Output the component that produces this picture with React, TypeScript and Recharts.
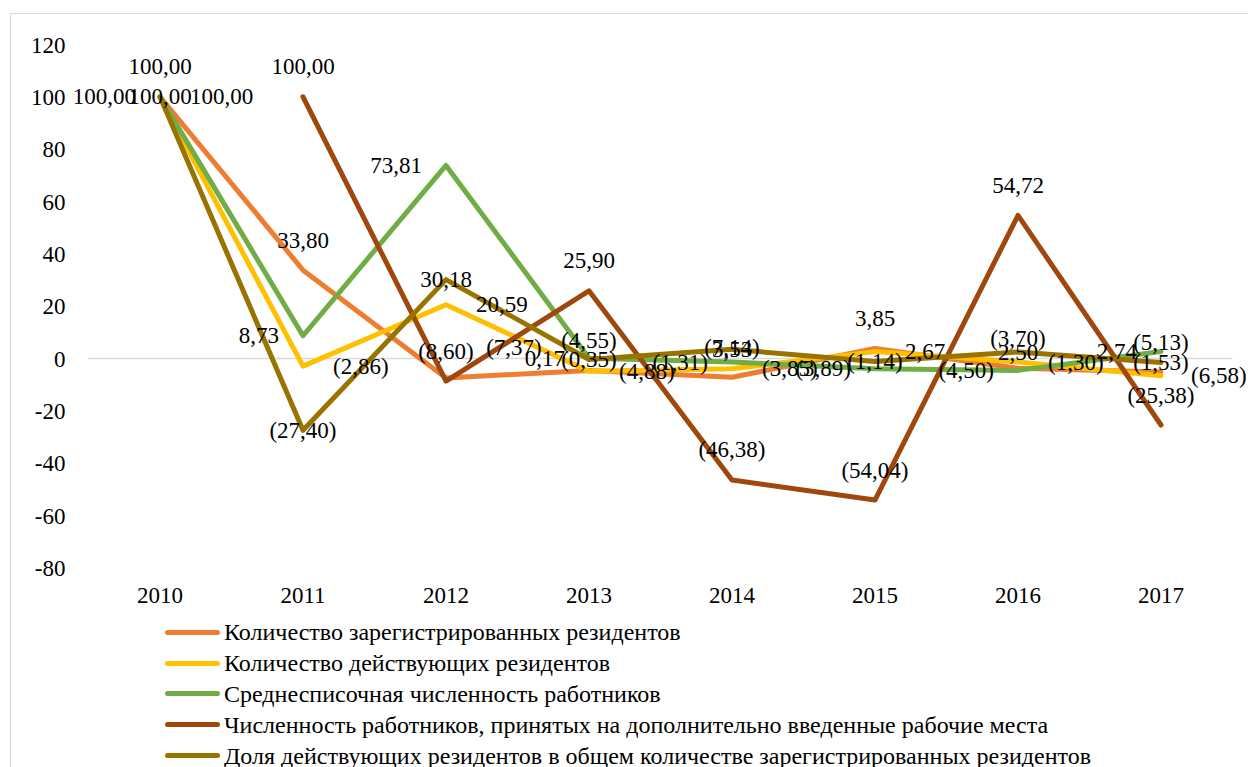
import { LineChart, Line, XAxis, YAxis, ReferenceLine, LabelList } from "recharts";

const years = ["2010", "2011", "2012", "2013", "2014", "2015", "2016", "2017"];
const registered = [100, 33.8, -7.37, -4.55, -7.14, 3.85, -3.7, -5.13];
const active = [100, -2.86, 20.59, -4.88, -3.85, 2.67, -1.3, -6.58];
const avgStaff = [100, 8.73, 73.81, 0.17, -1.31, -3.89, -4.5, 2.74];
const newJobs = [null, 100, -8.6, 25.9, -46.38, -54.04, 54.72, -25.38];
const share = [100, -27.4, 30.18, -0.35, 3.53, -1.14, 2.5, -1.53];
const yTicks = [-80, -60, -40, -20, 0, 20, 40, 60, 80, 100, 120];

const seriesNames = [
  "Количество зарегистрированных резидентов",
  "Количество действующих резидентов",
  "Среднесписочная численность работников",
  "Численность работников, принятых на дополнительно введенные рабочие места",
  "Доля действующих резидентов в общем количестве зарегистрированных резидентов",
];

const data = years.map((year, i) => ({
  year,
  registered: registered[i],
  active: active[i],
  avgStaff: avgStaff[i],
  newJobs: newJobs[i],
  share: share[i],
}));

type LabelPos = "above" | "right" | "left" | "center";

const series: { key: string; name: string; color: string; pos: LabelPos; shift?: Record<number, number> }[] = [
  { key: "registered", name: seriesNames[0], color: "#ED7D31", pos: "above", shift: { 2: 68 } },
  { key: "active", name: seriesNames[1], color: "#FFC000", pos: "right" },
  { key: "avgStaff", name: seriesNames[2], color: "#70AD47", pos: "left" },
  { key: "newJobs", name: seriesNames[3], color: "#9E480E", pos: "above" },
  { key: "share", name: seriesNames[4], color: "#997300", pos: "center" },
];

const font = '"Liberation Serif", "DejaVu Serif", serif';

const fmt = (v: number) => {
  const s = Math.abs(v).toFixed(2).replace(".", ",");
  return v < 0 ? `(${s})` : s;
};

const makeLabel = (pos: LabelPos, shift: Record<number, number> = {}) => (props: any) => {
  const { x, y, value, index } = props;
  if (value == null || x == null || y == null) return null;
  let tx = x + (shift[index] ?? 0);
  let ty = y;
  let anchor: "middle" | "start" | "end" = "middle";
  if (pos === "above") ty = y - 30;
  if (pos === "right") {
    tx = x + 30;
    anchor = "start";
  }
  if (pos === "left") {
    tx = x - 24;
    anchor = "end";
  }
  return (
    <text x={tx} y={ty} textAnchor={anchor} dominantBaseline="central" fontFamily={font} fontSize={23} fill="#000">
      {fmt(value)}
    </text>
  );
};

export default function App() {
  return (
    <div style={{ position: "relative", width: 1240, height: 759, fontFamily: font }}>
      <div
        style={{
          position: "absolute",
          left: 2,
          top: 5,
          width: 1238,
          height: 754,
          borderLeft: "1px solid #D9D9D9",
          borderTop: "1px solid #D9D9D9",
        }}
      />
      <div style={{ position: "absolute", left: 0, top: 0 }}>
        <LineChart width={1240} height={600} data={data} margin={{ top: 36.5, right: 15.5, bottom: 0, left: 0 }}>
          <ReferenceLine y={0} stroke="#D9D9D9" strokeWidth={1.5} />
          <XAxis
            dataKey="year"
            height={40}
            axisLine={false}
            tickLine={false}
            tickSize={0}
            tickMargin={19}
            padding={{ left: 71.5, right: 71.5 }}
            tick={{ fontFamily: font, fontSize: 23, fill: "#000" }}
          />
          <YAxis
            width={80.5}
            domain={[-80, 120]}
            ticks={yTicks}
            axisLine={false}
            tickLine={false}
            tickSize={0}
            tickMargin={23}
            tick={{ fontFamily: font, fontSize: 23, fill: "#000" }}
          />
          {series.map((s) => (
            <Line
              key={s.key}
              type="linear"
              dataKey={s.key}
              name={s.name}
              stroke={s.color}
              strokeWidth={5}
              strokeLinejoin="round"
              strokeLinecap="round"
              dot={false}
              activeDot={false}
              isAnimationActive={false}
            />
          ))}
          {series.map((s) => (
            <Line
              key={s.key + "-labels"}
              type="linear"
              dataKey={s.key}
              stroke="none"
              dot={false}
              activeDot={false}
              legendType="none"
              isAnimationActive={false}
            >
              <LabelList dataKey={s.key} content={makeLabel(s.pos, s.shift)} />
            </Line>
          ))}
        </LineChart>
      </div>
      <div style={{ position: "absolute", left: 157, top: 609 }}>
        {series.map((s) => (
          <div key={s.key} style={{ display: "flex", alignItems: "center", height: 30.8 }}>
            <div style={{ width: 55, height: 5, background: s.color, borderRadius: 2.5, marginRight: 4 }} />
            <span style={{ fontSize: 24, lineHeight: "30px", color: "#000", whiteSpace: "nowrap" }}>{s.name}</span>
          </div>
        ))}
      </div>
    </div>
  );
}
